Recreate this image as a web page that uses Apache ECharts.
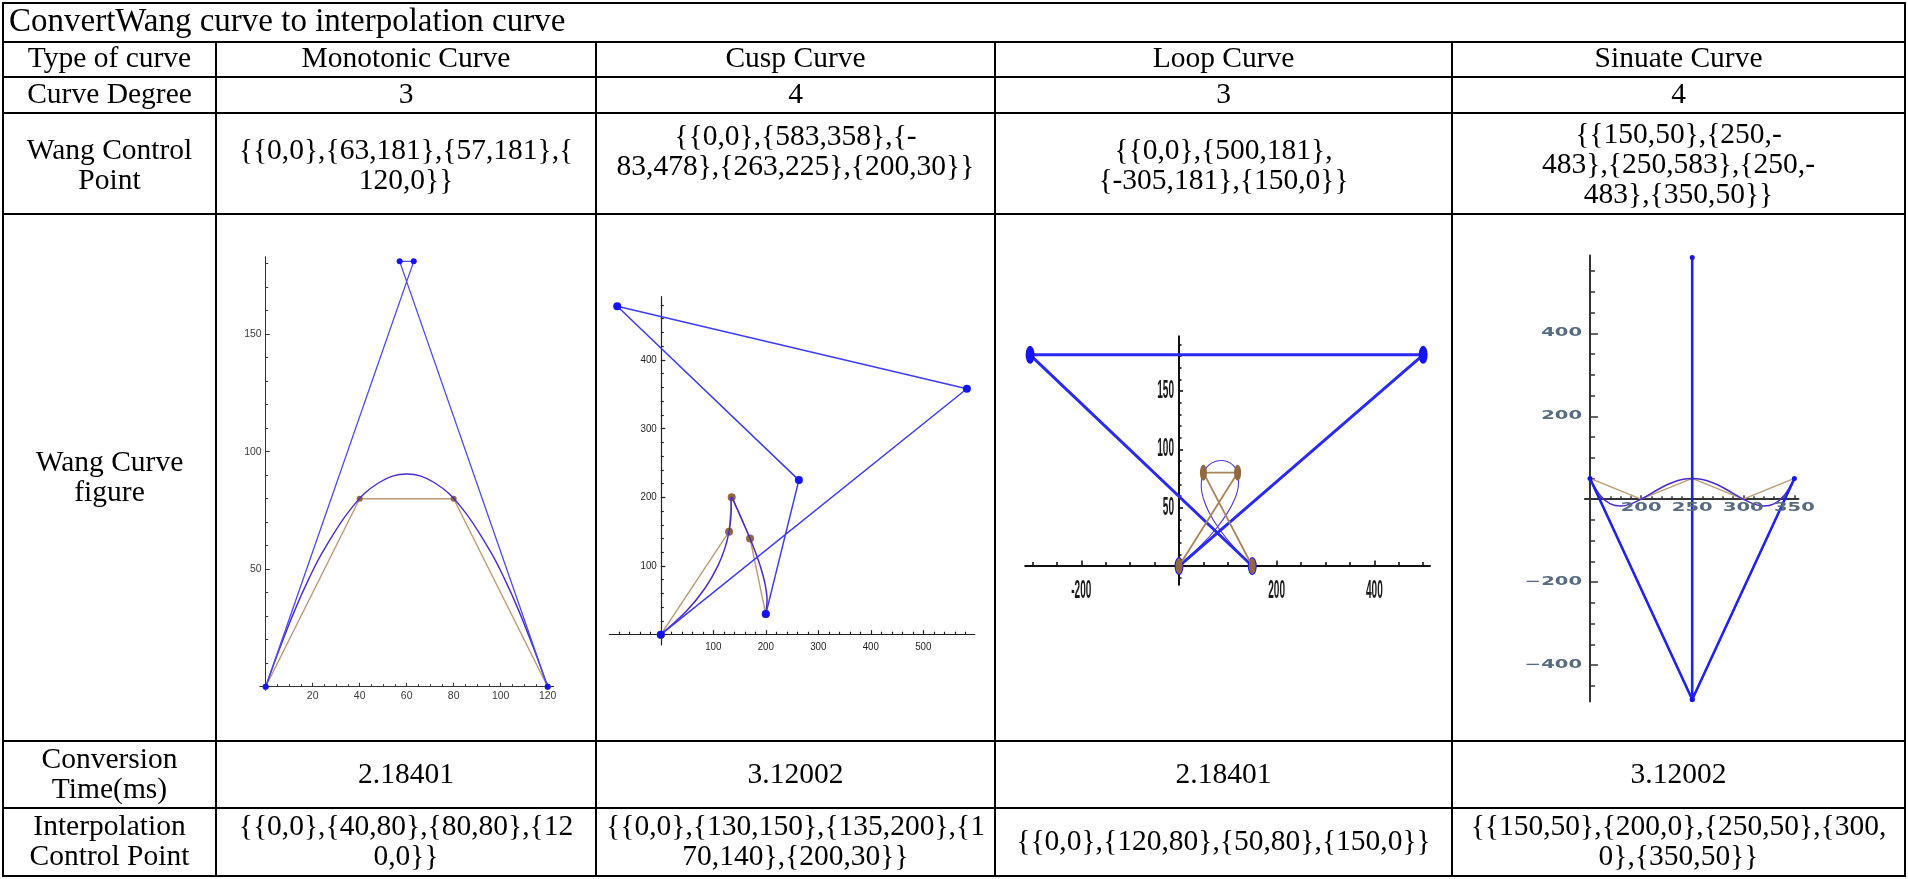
<!DOCTYPE html>
<html><head><meta charset="utf-8">
<script src="https://cdn.jsdelivr.net/npm/echarts@6/dist/echarts.min.js"></script>
<style>html,body{margin:0;padding:0;background:#fff;}#c{width:1908px;height:879px;}</style>
</head><body><div id="c"></div>
<script>
// ---------------- table texts ----------------
const tableTitle = 'ConvertWang curve to interpolation curve';
const rowHeaders = [['Type of curve'], ['Curve Degree'], ['Wang Control', 'Point'], ['Wang Curve', 'figure'], ['Conversion', 'Time(ms)'], ['Interpolation', 'Control Point']];
const curveTypes = ['Monotonic Curve', 'Cusp Curve', 'Loop Curve', 'Sinuate Curve'];
const curveDegrees = ['3', '4', '3', '4'];
const wangControlText = [
  ['{{0,0},{63,181},{57,181},{', '120,0}}'],
  ['{{0,0},{583,358},{-', '83,478},{263,225},{200,30}}'],
  ['{{0,0},{500,181},', '{-305,181},{150,0}}'],
  ['{{150,50},{250,-', '483},{250,583},{250,-', '483},{350,50}}']
];
const conversionTimes = ['2.18401', '3.12002', '2.18401', '3.12002'];
const interpText = [
  ['{{0,0},{40,80},{80,80},{12', '0,0}}'],
  ['{{0,0},{130,150},{135,200},{1', '70,140},{200,30}}'],
  ['{{0,0},{120,80},{50,80},{150,0}}'],
  ['{{150,50},{200,0},{250,50},{300,', '0},{350,50}}']
];

// ---------------- plot data ----------------
// Monotonic
const monoWangPts = [[0, 0], [63, 181], [57, 181], [120, 0]];
const monoInterpPts = [[0, 0], [40, 80], [80, 80], [120, 0]];
const monoCurve = [[0, 0], [6.3, 17.2], [12.4, 32.6], [18.5, 46.2], [24.6, 57.9], [36.5, 76.0], [48.3, 86.9], [60, 90.5], [71.7, 86.9], [83.5, 76.0], [95.4, 57.9], [101.5, 46.2], [107.6, 32.6], [113.7, 17.2], [120, 0]];
const monoXLabels = [20, 40, 60, 80, 100, 120];
const monoYLabels = [50, 100, 150];
// Cusp
const cuspWangPts = [[0, 0], [583, 358], [-83, 478], [263, 225], [200, 30]];
const cuspInterpPts = [[0, 0], [130, 150], [135, 200], [170, 140], [200, 30]];
const cuspCurve = [[0, 0], [49.8, 35.1], [84.8, 68.4], [108.0, 99.0], [122.3, 126.4], [130.0, 149.9], [133.3, 169.2], [134.1, 184.0], [133.8, 194.1], [133.8, 199.4], [135.0, 199.9], [138.0, 195.8], [143.1, 187.3], [150.4, 174.8], [159.5, 158.9], [170.0, 140.0], [180.8, 118.8], [190.9, 96.3], [198.7, 73.2], [202.4, 50.8], [200, 30]];
const cuspXLabels = [100, 200, 300, 400, 500];
const cuspYLabels = [100, 200, 300, 400];
// Loop
const loopWangPts = [[0, 0], [500, 181], [-305, 181], [150, 0]];
const loopInterpPts = [[0, 0], [120, 80], [50, 80], [150, 0]];
const loopCurve = [[0, 0], [44.1, 17.2], [77.0, 32.6], [100.1, 46.2], [114.5, 57.9], [121.4, 67.9], [122.1, 76.0], [117.7, 82.4], [109.4, 86.9], [98.6, 89.6], [86.3, 90.5], [73.7, 89.6], [62.2, 86.9], [52.8, 82.4], [46.8, 76.0], [45.5, 67.9], [49.9, 57.9], [61.4, 46.2], [81.1, 32.6], [110.2, 17.2], [150, 0]];
const loopXLabels = [-200, 200, 400];
const loopYLabels = [50, 100, 150];
// Sinuate
const sinWangPts = [[150, 50], [250, -483], [250, 583], [250, -483], [350, 50]];
const sinInterpPts = [[150, 50], [200, 0], [250, 50], [300, 0], [350, 50]];
const sinCurve = [[150, 50], [160, 9.0], [170, -11.4], [180, -16.6], [190, -11.4], [200, 0], [210, 14.2], [220, 28.2], [230, 39.8], [240, 47.4], [250, 50], [260, 47.4], [270, 39.8], [280, 28.2], [290, 14.2], [300, 0], [310, -11.4], [320, -16.6], [330, -11.4], [340, 9.0], [350, 50]];
const sinXLabels = [200, 250, 300, 350];
const sinYLabels = [-400, -200, 200, 400];

// ---------------- helpers ----------------
function range(a, b, s) { const r = []; for (let v = a; v <= b + 1e-9; v += s) r.push(+v.toFixed(6)); return r; }
function without(arr, ex) { return arr.filter(v => ex.indexOf(v) < 0 && v !== 0); }

const BLUE = '#1414f2', TAN = '#b99a76', BROWN = '#93683f', CURVE = '#4a2ad0';

function polyLine(data, color, width, symColor, symSize, z) {
  return { type: 'line', data: data, smooth: false, z: z, clip: false, silent: true,
    lineStyle: { color: color, width: width }, itemStyle: { color: symColor, borderWidth: 0 },
    symbol: 'circle', symbolSize: symSize, showSymbol: symSize !== 0 };
}
function curveLine(data, color, width, smooth) {
  return { type: 'line', data: data, smooth: smooth, z: 3, clip: false, silent: true, showSymbol: false,
    symbol: 'none', lineStyle: { color: color, width: width } };
}

const plots = [
  { rect: { left: 259.8, top: 256.65, width: 293.75, height: 433.6 }, cross: [0, 0], yOffset: 0,
    x: { min: -2.5, max: 122.5, major: monoXLabels, minor: without(range(5, 120, 5), monoXLabels), majorLen: 4, minorLen: 2.5 },
    y: { min: -1.5, max: 183, major: monoYLabels, minor: without(range(10, 180, 10), monoYLabels), majorLen: 4, minorLen: 2.5 },
    axisColor: '#333', axisWidth: 1, tickWidth: 1,
    lab: { font: '11px "Liberation Sans", Arial, sans-serif', color: '#3a3a3a', sx: 0.95, sy: 1, xGap: 9.5, yGap: 4, minus: '-' },
    series: [polyLine(monoInterpPts, TAN, 1.4, BROWN, 6, 2), curveLine(monoCurve, CURVE, 1.4, 0.4), polyLine(monoWangPts, '#4a4af2', 1.3, BLUE, 6, 4)] },
  { rect: { left: 609.35, top: 296.7, width: 365.4, height: 348.3 }, cross: [0, 0], yOffset: 0,
    x: { min: -98, max: 598, major: cuspXLabels, minor: without(range(-80, 580, 20), cuspXLabels), majorLen: 4.5, minorLen: 3 },
    y: { min: -15, max: 492, major: cuspYLabels, minor: without(range(20, 480, 20), cuspYLabels), majorLen: 4.5, minorLen: 3 },
    axisColor: '#222', axisWidth: 1.2, tickWidth: 1.2,
    lab: { font: '11.5px "Liberation Sans", Arial, sans-serif', color: '#1e1e1e', sx: 0.85, sy: 1, xGap: 12, yGap: 4, minus: '-' },
    series: [polyLine(cuspInterpPts, TAN, 1.4, BROWN, 8, 2), curveLine(cuspCurve, CURVE, 1.5, 0.3), polyLine(cuspWangPts, '#3c3cf2', 1.5, BLUE, 8, 4)] },
  { rect: { left: 1025.2, top: 336.2, width: 404.8, height: 248.5 }, cross: [0, 0], yOffset: 0,
    x: { min: -315, max: 514, major: loopXLabels, minor: without(range(-300, 500, 50), loopXLabels), majorLen: 5.5, minorLen: 4 },
    y: { min: -16, max: 197, major: loopYLabels, minor: without(range(-10, 190, 10), loopYLabels), majorLen: 4, minorLen: 2.5 },
    axisColor: '#111', axisWidth: 2, tickWidth: 1.6,
    lab: { font: 'bold 24px "Liberation Sans", Arial, sans-serif', color: '#1a1a1a', sx: 0.42, sy: 1.05, xGap: 25, yGap: 5, minus: '-' },
    series: [polyLine(loopInterpPts, '#a9845a', 1.8, BROWN, [7, 16], 5), curveLine(loopCurve, '#5236d6', 1.1, 0.4), polyLine(loopWangPts, '#2a2af2', 3, BLUE, [9, 18], 4)] },
  { rect: { left: 1584.9, top: 255.4, width: 213.6, height: 446.1 }, cross: [150, 0], yOffset: -5.1,
    x: { min: 145, max: 354, major: sinXLabels, minor: without(range(160, 350, 10), sinXLabels), majorLen: 4, minorLen: 3 },
    y: { min: -488, max: 588, major: sinYLabels, minor: without(range(-450, 550, 50), sinYLabels), majorLen: 8, minorLen: 5 },
    axisColor: '#333', axisWidth: 2, tickWidth: 1.5,
    lab: { font: 'bold 11.5px "DejaVu Sans", sans-serif', color: '#566b80', sx: 1.7, sy: 1, xGap: 9, yGap: 8, minus: '\u2212' },
    series: [polyLine(sinInterpPts, TAN, 1.3, BROWN, 0, 2), curveLine(sinCurve, CURVE, 1.5, 0.4), polyLine(sinWangPts, '#2020f2', 2.6, BLUE, 5, 4)] }
];

// ---------------- build option ----------------
const grid = [], xAxis = [], yAxis = [], series = [];
plots.forEach(function (p, i) {
  grid.push(Object.assign({ containLabel: false, outerBoundsMode: 'none', show: false }, p.rect));
  const xi = xAxis.length, yi = yAxis.length;
  p.xi = xi; p.yi = yi;
  function mk(dim, spec, isMajor) {
    const isX = dim === 'x';
    return {
      type: 'value', gridIndex: i, min: spec.min, max: spec.max,
      position: isX ? 'bottom' : 'left',
      offset: isX ? 0 : p.yOffset,
      axisLine: { show: true, onZero: isX ? true : !p.yOffset, onZeroAxisIndex: isX ? yi : xi,
        lineStyle: { color: isMajor ? p.axisColor : 'rgba(0,0,0,0)', width: p.axisWidth } },
      axisTick: { show: true, inside: true, length: isMajor ? spec.majorLen : spec.minorLen,
        customValues: isMajor ? spec.major : spec.minor, lineStyle: { color: p.axisColor, width: p.tickWidth } },
      axisLabel: { show: false }, splitLine: { show: false }, splitArea: { show: false },
      minorTick: { show: false }, axisPointer: { show: false }, silent: true
    };
  }
  xAxis.push(mk('x', p.x, true), mk('x', p.x, false));
  yAxis.push(mk('y', p.y, true), mk('y', p.y, false));
  p.series.forEach(function (s) { s.xAxisIndex = xi; s.yAxisIndex = yi; series.push(s); });
});

const chart = echarts.init(document.getElementById('c'), null, { renderer: 'canvas' });
chart.setOption({ animation: false, backgroundColor: '#fff', grid: grid, xAxis: xAxis, yAxis: yAxis, series: series, tooltip: { show: false } });

// ---------------- table graphics ----------------
const colX = [3, 216, 596, 995, 1452, 1905];
const rowY = [3, 42, 77, 113, 214, 741, 808, 876];
const colCenters = [109.5, 406, 795.5, 1223.5, 1678.5];
const BODY = '29.5px "Liberation Serif", "Times New Roman", serif';
const g = [];
function line(x1, y1, x2, y2) {
  g.push({ type: 'line', silent: true, z: 10, shape: { x1: x1, y1: y1, x2: x2, y2: y2 }, style: { stroke: '#000', lineWidth: 2 } });
}
function txt(s, x, y, font, align, sx, sy, color, z) {
  g.push({ type: 'text', silent: true, z: z || 10, x: x, y: y, scaleX: sx || 1, scaleY: sy || 1,
    style: { text: s, fill: color || '#000', font: font, textAlign: align || 'center', align: align || 'center',
      textVerticalAlign: 'middle', verticalAlign: 'middle' } });
}
rowY.forEach(function (y) { line(colX[0] - 1, y, colX[5] + 1, y); });
line(colX[0], rowY[0], colX[0], rowY[7]);
line(colX[5], rowY[0], colX[5], rowY[7]);
for (let k = 1; k < 5; k++) line(colX[k], rowY[1], colX[k], rowY[7]);

txt(tableTitle, 9, 22.5, '33px "Liberation Serif", "Times New Roman", serif', 'left');
const LH = 30;
function block(lines, cx, cy) {
  const n = lines.length;
  lines.forEach(function (s, j) { txt(s, cx, cy + (j - (n - 1) / 2) * LH, BODY, 'center'); });
}
const rowCenters = [59.5, 95, 166.5, 478.5, 775.5, 842];
rowHeaders.forEach(function (h, r) { block(h, colCenters[0], rowCenters[r]); });
curveTypes.forEach(function (s, c) { block([s], colCenters[c + 1], rowCenters[0]); });
curveDegrees.forEach(function (s, c) { block([s], colCenters[c + 1], rowCenters[1]); });
const wangCenters = [166.5, 152, 166.5, 165.5];
wangControlText.forEach(function (ls, c) { block(ls, colCenters[c + 1], wangCenters[c]); });
conversionTimes.forEach(function (s, c) { block([s], colCenters[c + 1], rowCenters[4]); });
interpText.forEach(function (ls, c) { block(ls, colCenters[c + 1], rowCenters[5]); });

// ---------------- axis tick labels (positioned through the axes) ----------------
plots.forEach(function (p) {
  const L = p.lab;
  function fmt(v) { return v < 0 ? L.minus + Math.abs(v) : String(v); }
  p.x.major.forEach(function (v) {
    const pt = chart.convertToPixel({ xAxisIndex: p.xi, yAxisIndex: p.yi }, [v, p.cross[1]]);
    txt(fmt(v), pt[0], pt[1] + L.xGap, L.font, 'center', L.sx, L.sy, L.color, 5);
  });
  p.y.major.forEach(function (v) {
    const pt = chart.convertToPixel({ xAxisIndex: p.xi, yAxisIndex: p.yi }, [p.cross[0], v]);
    txt(fmt(v), pt[0] - L.yGap, pt[1], L.font, 'right', L.sx, L.sy, L.color, 5);
  });
});

chart.setOption({ graphic: { elements: g } });
</script>
</body></html>
